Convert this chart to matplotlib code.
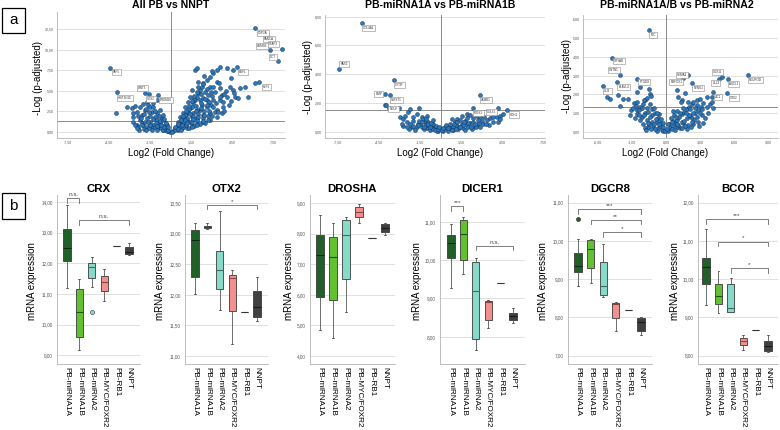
import matplotlib
matplotlib.use("Agg")
import matplotlib.pyplot as plt
from matplotlib.patches import Rectangle

plt.rcParams['font.family'] = ['Liberation Sans', 'DejaVu Sans']

# ---------------- DATA ----------------
# Volcano 1: All PB vs NNPT
v1_x = [-4.01, -3.24, -2.87, -2.63, -2.26, -2.02, -1.78, -1.65, -2.75, -2.51, -2.14, -1.9, -1.53, -1.29, -1.05,
        -1.41, -1.05, -0.8, -1.17, -1.78, -2.26, -2.75, -2.51, -2.02, -1.53, -1.05, -0.68, -0.56, -1.29, -0.8,
        -0.44, -0.32, -0.56, -0.19, -0.07, -0.92, -1.41, -1.78, -2.38, -2.14,
        0.17, 0.29, 0.41, 0.54, 0.66, 0.78, 0.9, 1.02, 1.14, 1.27, 1.39, 1.51, 1.63, 1.75, 1.87, 2.0, 2.12, 2.24,
        2.36, 2.6, 2.85, 3.09, 3.33, 3.58, 1.75, 1.87, 3.02, 4.06, 4.38, 4.55, 4.67, 4.87, 5.6, 4.31, 3.58, 3.33,
        2.85, 2.48, 2.12, 2.6, 3.09, 3.58, 4.06, 3.82, 3.33, 2.85, 2.36, 1.87, 1.39, 1.02, 0.78, 0.54, 2.12, 2.6,
        1.63, 1.14, 1.51, 1.87, 2.24, 2.73, 3.21, 3.7, 4.55, 5.04, 5.4, 1.14, 1.51, 1.87, 2.36, 2.85, 3.33, 3.7,
        2.0, 1.51, 1.39, 1.22, 1.02, 0.85, 0.66, 0.49, 2.41, 3.09,
        -2.3, -2.0, -1.8, -1.6, -1.4, -1.2, -1.0, -0.9, -0.7, -0.6, -0.5, -0.4, -0.3, -0.2, -1.1, -1.5, -0.8, -0.3,
        -1.9, -2.6, 0.1, 0.3, 0.5, 0.7, 0.9, 1.1, 1.3, 1.5, 1.7, 1.9, 2.1, 2.3, 2.5, 2.7, 0.6, 0.9, 1.2, 1.6, 2.0,
        2.4, 1.0, 1.3, 1.8, 2.2, 2.9, 3.2, 1.7, 2.3, 2.6, 3.5, 3.0, 4.0, 3.8, 6.13,
        -2.8, -2.4, -2.0, -1.6, -1.2, -0.9, -0.6, -0.4, -0.2, -1.3, -1.7, -2.1, -2.5, -1.0, -0.7, -1.5, -2.2, -0.5,
        -1.8, -1.3, 0.3, 0.5, 0.7, 0.9, 1.1, 1.3, 1.5, 1.7, 1.9, 2.2, 2.5, 2.8, 3.1, 3.4, 3.9, 4.2, 4.4, 1.0, 1.4,
        1.8, 2.2, 2.6, 3.0, 2.7, 2.3, 1.9, 1.5, 1.2, 0.8, 1.6, 2.0, 2.4, 2.8, 3.3, 3.6, 2.9, 2.3, 1.95, 3.9, 4.6]
v1_y = [2.35, 3.0, 2.87, 3.16, 3.0, 3.4, 3.68, 3.28, 2.27, 2.47, 2.06, 2.67, 3.0, 3.48, 3.89,
        2.47, 2.27, 2.67, 1.86, 1.66, 1.46, 1.26, 0.85, 0.85, 1.26, 1.46, 1.66, 2.06, 0.85, 1.05,
        0.85, 0.45, 0.24, 0.12, 0.04, 0.45, 0.45, 0.65, 0.65, 1.05,
        0.12, 0.45, 0.65, 0.85, 1.05, 1.38, 1.66, 1.86, 2.27, 2.47, 2.87, 3.08, 3.48, 3.89, 4.29, 4.7, 5.1, 5.51,
        5.91, 6.32, 6.72, 7.13, 7.53, 7.94, 7.53, 7.73, 7.41, 7.73, 6.52, 7.53, 4.29, 4.09, 4.21, 5.51, 5.3, 6.11,
        5.51, 4.9, 3.89, 3.89, 3.89, 3.89, 4.29, 3.08, 2.67, 2.27, 2.06, 1.66, 1.26, 0.85, 0.45, 0.24, 2.67, 3.08,
        2.27, 1.46, 1.86, 2.67, 3.28, 4.49, 4.9, 4.49, 5.1, 5.3, 5.51, 0.45, 0.85, 1.05, 1.26, 1.46, 1.86, 2.27,
        6.11, 5.1, 4.29, 3.68, 3.08, 2.35, 1.86, 1.26, 6.8, 5.51,
        0.3, 0.4, 0.2, 0.5, 0.3, 0.6, 0.3, 0.8, 0.5, 0.2, 0.6, 0.3, 0.15, 0.3, 1.1, 0.9, 1.3, 0.9,
        1.2, 0.9, 0.05, 0.2, 0.4, 0.3, 0.6, 0.8, 0.5, 1.2, 0.7, 1.4, 1.0, 1.7, 1.1, 1.9, 0.9, 1.2, 1.7, 2.0, 2.2,
        2.5, 2.1, 2.8, 3.1, 2.9, 3.3, 2.4, 4.0, 4.1, 5.2, 6.0, 4.4, 5.0, 3.6, 5.95,
        1.8, 2.0, 2.2, 2.4, 2.5, 2.0, 1.4, 1.1, 0.6, 1.6, 1.2, 0.8, 0.5, 0.7, 0.9, 1.9, 1.7, 1.6,
        2.8, 3.0, 0.6, 1.0, 1.5, 2.0, 2.5, 3.2, 3.7, 4.4, 4.9, 4.6, 4.0, 3.6, 3.0, 2.4, 2.6, 3.3, 3.8, 1.5, 2.2,
        2.6, 3.5, 3.3, 2.0, 1.5, 1.3, 0.9, 0.6, 1.1, 0.8, 1.6, 1.8, 2.1, 2.6, 3.5, 4.2, 4.8, 5.8, 5.4, 4.6, 4.7]
v1_lab_x = [-4.45, -3.94, -1.9, -1.6, -0.95, 4.82, 6.13, 7.0, 8.1, 7.23, 7.81, 6.42]
v1_lab_y = [7.77, 4.85, 4.73, 4.58, 4.5, 7.93, 12.62, 11.65, 10.07, 9.95, 8.62, 6.07]
v1_lab_t = ['TAF5', 'HIST1H1C', 'WNT5', 'SOX2', 'PRDM16', 'EDF1', 'TOP2A', 'FANCA', 'TFAP2', 'KDM5B', 'DCT', 'KLF5']

# Volcano 2: PB-miRNA1A vs PB-miRNA1B
v2_x = [-4.07, -3.76, -3.05, -2.98, -2.78, -2.61, -2.37, -2.24, -1.56, -1.76, -1.39, -1.27, -1.02, -2.0, -2.49,
        -2.73, -2.85, -2.24, -1.63, -1.15, -0.9, -0.66, -0.41, -0.17, -1.76, -2.12, -1.39, -1.02, -0.78, -0.54,
        -0.29, 0.2, 0.44, 0.68, 0.93, 1.17, 1.54, 1.9, 2.15, 2.39, 2.63, 3.0, 3.37, 3.61, 3.85, 4.1, 4.34, 4.59,
        1.17, 1.54, 1.9, 2.15, 2.39, 2.63, 2.88, 3.12, 3.56, 4.22, 4.34, 2.39, 2.02, 1.66, 1.29, 0.93, 0.56, 0.8,
        1.05, 1.41, -2.3, -2.0, -1.9, -1.5, -1.2, -1.1, -0.8, -0.6, -0.45, -0.2, 0.1, 0.3, 0.6, 0.8, 1.0, 1.3,
        1.6, 1.8, 2.0, 2.3, 2.6, 2.8, -1.6, -0.9, 1.2, 1.8,
        -1.2, -0.95, -1.7, -2.45, -0.7, -1.4, -0.35, 0.4, 0.7, 1.1, 1.4, 1.7, 2.2, 2.5, 2.9, 3.3, 3.8, 0.55, 0.2,
        -0.1, 1.95, 2.7, 3.2, -2.0, -1.1, -0.55]
v2_y = [1.82, 1.66, 1.66, 1.0, 0.89, 1.12, 1.35, 1.59, 1.66, 1.24, 1.0, 0.89, 1.12, 0.77, 0.65,
        0.42, 0.54, 0.54, 0.54, 0.65, 0.49, 0.35, 0.23, 0.07, 0.35, 0.35, 0.3, 0.26, 0.12, 0.16,
        0.02, 0.07, 0.16, 0.26, 0.35, 0.42, 0.54, 0.49, 0.58, 0.65, 0.49, 0.77, 0.82, 0.96, 1.0, 1.0, 1.12, 1.24,
        0.89, 1.12, 1.24, 1.19, 0.96, 1.12, 1.0, 0.54, 0.49, 0.65, 0.89, 0.35, 0.3, 0.23, 0.19, 0.12, 0.07, 0.89,
        0.65, 0.82, 0.2, 0.4, 0.15, 0.5, 0.2, 0.45, 0.3, 0.5, 0.1, 0.2, 0.1, 0.3, 0.35, 0.1, 0.5, 0.3,
        0.45, 0.15, 0.6, 0.2, 0.3, 0.6, 0.75, 0.7, 0.7, 0.75,
        0.35, 0.55, 0.45, 0.3, 0.6, 0.7, 0.4, 0.45, 0.55, 0.2, 0.35, 0.65, 0.35, 0.5, 0.35, 0.55, 0.7, 0.25, 0.25,
        0.35, 0.95, 0.8, 1.05, 1.0, 0.9, 0.8]
v2_lab_x = [-5.78, -7.41, -3.41, -4.05, -3.71, -3.98, 2.88, 2.34, 4.22, 4.83]
v2_lab_y = [7.58, 4.38, 3.57, 2.62, 2.52, 1.86, 2.52, 1.65, 1.65, 1.54]
v2_lab_t = ['COL4A1', 'PAX3', 'CYTIP', 'LIMP', 'TWIST1', 'NDUF', 'LAMB1', 'MEIS1', 'COL15', 'CDH1']

# Volcano 3: PB-miRNA1A/B vs PB-miRNA2
v3_x = [-5.24, -4.94, -4.26, -3.38, -3.09, -2.82, -2.53, -2.29, -2.15, -2.0, -1.85, -1.65, -1.47, -1.41, -2.29,
        -2.59, -3.76, -4.06, -3.18, -2.59, -2.15, -1.85, -1.56, -1.26, -0.97, -0.68, -0.82, -1.26, -1.71, -2.0,
        -1.56, -1.12, -0.68, -0.38, -0.24, -1.85, -2.29, -2.74, -1.41, -1.06, -0.53, -1.35, -0.82, -2.35, -2.65,
        0.21, 0.35, 0.59, 0.79, 0.94, 1.15, 1.38, 1.59, 1.82, 2.06, 2.26, 2.41, 2.71, 3.0, 3.29, 3.59, 3.88, 4.03,
        4.18, 1.82, 2.12, 2.56, 2.85, 3.15, 3.44, 3.74, 1.53, 1.97, 2.41, 2.85, 3.29, 0.94, 1.09, 1.38, 1.68, 2.71,
        2.26, 0.5, 1.24, 1.82, 0.94, 1.38, 2.56, 3.06, 3.59, 4.47, 4.03,
        -1.8, -1.5, -1.0, -0.9, -0.5, -0.3, -0.1, 0.1, 0.3, 0.6, 0.8, 1.1, 1.4, 1.6, 2.0, 2.2, 2.5, 0.7, 1.0,
        -0.6, -1.2, -1.9, -0.4, 0.4,
        -1.7, -1.4, -1.1, -0.8, -0.6, -1.6, -2.4, -2.9, -0.3, 0.2, 0.5, 0.9, 1.2, 1.5, 1.8, 2.1, 2.4, 2.7, 3.0,
        1.0, 1.7, 2.3, 2.9, 3.2, 0.6, 1.3, 1.9, -1.9, -2.6, -1.3]
v3_y = [1.88, 1.74, 1.97, 1.74, 1.17, 1.56, 1.17, 1.35, 1.26, 1.49, 1.71, 1.79, 2.27, 2.02, 2.38,
        2.15, 1.74, 1.39, 0.91, 0.96, 0.82, 0.99, 1.08, 0.91, 0.99, 0.73, 0.55, 0.55, 0.64, 0.43,
        0.28, 0.32, 0.2, 0.11, 0.05, 0.2, 0.64, 0.73, 0.78, 0.43, 0.32, 0.14, 0.07, 1.17, 1.39,
        0.07, 0.2, 0.32, 0.46, 0.64, 0.82, 0.96, 1.08, 1.21, 1.35, 1.49, 1.62, 1.71, 1.74, 1.53, 1.31, 1.49, 1.88,
        1.26, 0.73, 0.85, 0.99, 1.17, 0.91, 0.73, 1.03, 0.46, 0.37, 0.43, 0.55, 0.5, 2.24, 1.85, 1.71, 2.06, 1.44,
        0.73, 0.14, 0.2, 0.14, 0.28, 0.55, 1.26, 1.31, 1.85, 1.88, 1.62,
        0.1, 0.4, 0.15, 0.7, 0.5, 0.25, 0.05, 0.15, 0.4, 0.6, 0.1, 0.35, 0.2, 0.6, 0.9, 0.25, 0.65, 0.9, 1.1,
        0.95, 1.2, 0.9, 0.7, 0.75,
        1.3, 1.5, 1.3, 1.0, 0.4, 0.5, 0.9, 1.3, 0.5, 0.4, 0.55, 0.8, 1.0, 1.3, 1.0, 1.2, 1.0, 0.8, 1.0,
        0.45, 0.3, 0.55, 0.3, 1.2, 1.1, 1.6, 1.6, 1.7, 1.6, 1.9]
v3_lab_x = [-1.47, -4.79, -4.06, -4.29, -5.53, -2.53, 1.94, 1.53, 2.32, 4.97, 4.71, 5.44, 7.2, 4.12, 5.41]
v3_lab_y = [5.44, 3.93, 3.04, 2.68, 2.45, 2.82, 3.04, 2.86, 2.59, 2.95, 2.81, 2.84, 3.04, 2.11, 2.1]
v3_lab_t = ['MIC', 'CRYAB', 'CNTN1', 'ELAVL4', 'GLI2', 'PTGDS', 'SEMA3', 'RBFOX1', 'NTNG1', 'SOX11',
            'DLL3', 'ASCL1', 'NEUROD', 'ZIC1', 'OTX2']

# Box plots
groups = ['PB-miRNA1A', 'PB-miRNA1B', 'PB-miRNA2', 'PB-MYC/FOXR2', 'PB-RB1', 'NNPT']

crx_lo = [11.2, 9.18, 11.22, 10.78, 12.57, 12.27]
crx_q1 = [12.07, 9.6, 11.53, 11.1, 12.57, 12.3]
crx_med = [12.51, 10.42, 11.87, 11.38, 12.57, 12.38]
crx_q3 = [13.12, 11.17, 12.0, 11.6, 12.57, 12.55]
crx_hi = [13.9, 11.5, 12.22, 11.82, 12.57, 12.67]
crx_out = [[], [], [10.41], [], [], []]

otx2_lo = [12.01, 13.08, 11.76, 11.2, 11.72, 11.58]
otx2_q1 = [12.29, 13.09, 12.1, 11.74, 11.72, 11.64]
otx2_med = [12.89, 13.11, 12.41, 12.27, 11.72, 11.8]
otx2_q3 = [13.06, 13.13, 12.72, 12.33, 11.72, 12.06]
otx2_hi = [13.17, 13.17, 13.37, 12.4, 11.72, 12.29]

drosha_lo = [4.86, 4.6, 5.44, 8.33, 7.84, 7.96]
drosha_q1 = [5.92, 5.84, 6.53, 8.55, 7.84, 8.04]
drosha_med = [7.31, 7.23, 7.95, 8.72, 7.84, 8.17]
drosha_q3 = [7.96, 7.89, 8.45, 8.88, 7.84, 8.32]
drosha_hi = [8.6, 8.36, 8.53, 8.98, 7.84, 8.35]

dicer1_lo = [9.27, 9.65, 7.66, 8.23, 9.41, 8.37]
dicer1_q1 = [10.05, 10.0, 7.93, 8.43, 9.41, 8.43]
dicer1_med = [10.45, 10.68, 9.2, 8.9, 9.41, 8.53]
dicer1_q3 = [10.65, 11.06, 9.95, 8.93, 9.41, 8.62]
dicer1_hi = [10.95, 11.12, 10.06, 8.96, 9.41, 8.76]

dgcr8_lo = [8.82, 8.91, 8.53, 7.63, 8.18, 7.55]
dgcr8_q1 = [9.19, 9.28, 8.59, 7.98, 8.18, 7.65]
dgcr8_med = [9.35, 9.79, 8.82, 8.35, 8.18, 7.87]
dgcr8_q3 = [9.67, 10.02, 9.46, 8.37, 8.18, 7.98]
dgcr8_hi = [10.06, 10.06, 9.93, 8.39, 8.18, 8.0]
dgcr8_out = [[10.57], [], [], [], [], []]

bcor_lo = [9.31, 9.11, 9.13, 8.15, 8.67, 8.1]
bcor_q1 = [9.86, 9.34, 9.15, 8.28, 8.67, 8.11]
bcor_med = [10.32, 9.56, 9.24, 8.38, 8.67, 8.24]
bcor_q3 = [10.56, 9.86, 9.86, 8.47, 8.67, 8.37]
bcor_hi = [11.3, 10.21, 10.02, 8.54, 8.67, 8.54]

# significance brackets: (group i, group j, level, label)
crx_sig = [(0, 1, 14.13, 'n.s.'), (1, 5, 13.41, 'n.s.')]
otx2_sig = [(1, 5, 13.47, '*')]
drosha_sig = []
dicer1_sig = [(0, 1, 11.41, '***'), (2, 5, 10.37, 'n.s.')]
dgcr8_sig = [(0, 5, 10.83, '***'), (1, 5, 10.55, '**'), (2, 5, 10.23, '*')]
bcor_sig = [(0, 5, 11.57, '***'), (1, 5, 10.98, '*'), (2, 5, 10.29, '*')]

# ---------------- FIGURE ----------------
W, H = 780, 430
fig = plt.figure(figsize=(W / 100, H / 100), dpi=100)
fig.patch.set_facecolor('white')


def ax_px(x0, y0, x1, y1):
    return fig.add_axes([x0 / W, 1 - y1 / H, (x1 - x0) / W, (y1 - y0) / H])


def comma(v):
    return f"{v:.2f}".replace('.', ',')


GRID = '#dadada'
SPINE = '#b4b4b4'


def volcano(rect, xs, ys, lx, ly, lt, offs, xlim, ylim, xticks, yticks, thr,
            title, tpos, xlpos, ylpos):
    ax = ax_px(*rect)
    ax.set_xlim(xlim)
    ax.set_ylim(ylim)
    for yt in yticks:
        ax.axhline(yt, color=GRID, lw=0.6, zorder=0)
    ax.axhline(thr, color='#8a8a8a', lw=0.7, zorder=1)
    ax.axvline(0, color='#8a8a8a', lw=0.7, zorder=1)
    ax.scatter(list(xs) + list(lx), list(ys) + list(ly), s=8, c='#2d78bb',
               edgecolors='#12345a', linewidths=0.35, zorder=3)
    for x, y, t, (dx, dy, ha, va) in zip(lx, ly, lt, offs):
        ax.annotate(t, (x, y), xytext=(dx, dy), textcoords='offset pixels',
                    ha=ha, va=va, fontsize=2.2, color='#333333', zorder=4,
                    bbox=dict(boxstyle='square,pad=0.35', fc='white', ec='#8a8a8a', lw=0.4))
    ax.set_xticks(xticks)
    ax.set_xticklabels([comma(t) for t in xticks])
    ax.set_yticks(yticks)
    ax.set_yticklabels([comma(t) for t in yticks])
    ax.tick_params(length=0, labelsize=2.6, labelcolor='#555555', pad=2)
    for s in ['top', 'right']:
        ax.spines[s].set_visible(False)
    for s in ['left', 'bottom']:
        ax.spines[s].set_color(SPINE)
        ax.spines[s].set_linewidth(0.6)
    fig.text(tpos[0] / W, 1 - tpos[1] / H, title, ha='center', va='center',
             fontsize=7.6, fontweight='bold')
    fig.text(xlpos[0] / W, 1 - xlpos[1] / H, 'Log2 (Fold Change)', ha='center',
             va='center', fontsize=7)
    fig.text(ylpos[0] / W, 1 - ylpos[1] / H, '-Log (p-adjusted)', ha='center',
             va='center', fontsize=7, rotation=90)
    return ax


v1_offs = [(3, -2, 'left', 'top'), (1, -4, 'left', 'top'), (2, 3, 'right', 'bottom'),
           (-2, -3, 'left', 'top'), (2, -3, 'left', 'top'), (2, -3, 'left', 'top'),
           (3, -3, 'left', 'top'), (-3, -1, 'left', 'top'), (-4, 3, 'right', 'bottom'),
           (-3, 2, 'right', 'bottom'), (-2, 2, 'right', 'bottom'), (4, -3, 'left', 'top')]
volcano((57, 12, 285, 138), v1_x, v1_y, v1_lab_x, v1_lab_y, v1_lab_t, v1_offs,
        (-8.32, 8.32), (-0.73, 14.56), [-7.5, -4.5, -1.5, 1.5, 4.5, 7.5],
        [0, 2.5, 5, 7.5, 10, 12.5], 1.3, 'All PB vs NNPT', (171, 5), (171, 153), (38, 78))

v2_offs = [(1, -3, 'left', 'top'), (1, 3, 'left', 'bottom'), (1, -3, 'left', 'top'),
           (-3, 0, 'right', 'center'), (1, -3, 'left', 'top'), (3, -2, 'left', 'top'),
           (1, -3, 'left', 'top'), (1, -3, 'left', 'top'), (-2, -2, 'right', 'top'),
           (3, -3, 'left', 'top')]
volcano((325, 15, 545, 138), v2_x, v2_y, v2_lab_x, v2_lab_y, v2_lab_t, v2_offs,
        (-8.47, 7.63), (-0.44, 8.11), [-7.5, -4.5, -1.5, 1.5, 4.5, 7.5],
        [0, 2, 4, 6, 8], 1.52, 'PB-miRNA1A vs PB-miRNA1B', (440, 5), (440, 153), (308, 77))

v3_offs = [(1, -3, 'left', 'top'), (2, -1, 'left', 'top'), (-1, 3, 'right', 'bottom'),
           (1, -3, 'left', 'top'), (1, -3, 'left', 'top'), (2, -1, 'left', 'top'),
           (-1, 0, 'right', 'center'), (-1, -2, 'right', 'top'), (1, -3, 'left', 'top'),
           (0, 3, 'right', 'bottom'), (0, -2, 'right', 'top'), (1, -3, 'left', 'top'),
           (1, -3, 'left', 'top'), (2, -3, 'left', 'top'), (3, -3, 'left', 'top')]
volcano((583, 15, 778, 138), v3_x, v3_y, v3_lab_x, v3_lab_y, v3_lab_t, v3_offs,
        (-7.32, 9.88), (-0.32, 6.23), [-6, -3, 0, 3, 6, 9],
        [0, 1, 2, 3, 4, 5, 6], 1.33, 'PB-miRNA1A/B vs PB-miRNA2', (677, 5), (665, 153), (567, 76))

# ---- box plots ----
box_colors = ['#22602a', '#62c12f', '#86dbc8', '#f48f8f', '#4a4a4a', '#404040']
med_colors = ['#0d2a10', '#244f14', '#3a6e62', '#8a4545', '#333333', '#1a1a1a']


def boxpanel(rect, xlim, ylim, yticks, lo, q1, med, q3, hi, outs, sig, title, ylx):
    ax = ax_px(*rect)
    stats = []
    for i in range(len(groups)):
        stats.append(dict(whislo=lo[i], q1=q1[i], med=med[i], q3=q3[i], whishi=hi[i],
                          fliers=outs[i] if outs else [], label=groups[i]))
    b = ax.bxp(stats, positions=range(len(groups)), widths=0.58, patch_artist=True,
               showfliers=True, manage_ticks=False,
               boxprops=dict(lw=0.6, edgecolor='#3a3a3a'),
               whiskerprops=dict(lw=0.6, color='#555555'),
               capprops=dict(lw=0.6, color='#555555'),
               medianprops=dict(lw=0.8),
               flierprops=dict(marker='o', markersize=3, markeredgewidth=0.4))
    for i, p in enumerate(b['boxes']):
        p.set_facecolor(box_colors[i])
    for i, m in enumerate(b['medians']):
        m.set_color(med_colors[i])
    for c in b['caps']:
        c.set_xdata([c.get_xdata()[0] + 0.07, c.get_xdata()[1] - 0.07])
    for i, f in enumerate(b['fliers']):
        f.set_markerfacecolor(box_colors[i])
        f.set_markeredgecolor('#333333')
    ax.set_xlim(xlim)
    ax.set_ylim(ylim)
    for yt in yticks:
        ax.axhline(yt, color=GRID, lw=0.6, zorder=0)
    ax.set_yticks(yticks)
    ax.set_yticklabels([comma(t) for t in yticks])
    ax.set_xticks(range(len(groups)))
    ax.set_xticklabels(groups, rotation=-90, fontsize=5.9, ha='center', va='top')
    ax.tick_params(axis='y', length=0, labelsize=3.3, labelcolor='#555555', pad=3)
    ax.tick_params(axis='x', length=0, pad=2.5)
    for s in ['top', 'right']:
        ax.spines[s].set_visible(False)
    for s in ['left', 'bottom']:
        ax.spines[s].set_color(SPINE)
        ax.spines[s].set_linewidth(0.6)
    rng = ylim[1] - ylim[0]
    drop = rng / 169 * 4.5
    for i, j, lev, txt in sig:
        ax.plot([i, i, j, j], [lev - drop, lev, lev, lev - drop], color='#6a6a6a',
                lw=0.6, clip_on=False, zorder=5)
        ax.text((i + j) / 2, lev + drop * 0.25, txt, ha='center', va='bottom',
                fontsize=4.6, color='#444444', clip_on=False)
    cx = (rect[0] + rect[2]) / 2
    fig.text(cx / W, 1 - 189 / H, title, ha='center', va='center', fontsize=8.2,
             fontweight='bold')
    fig.text(ylx / W, 1 - 281 / H, 'mRNA expression', ha='center', va='center',
             fontsize=7, rotation=90)
    return ax


boxpanel((57, 195, 140, 364), (-0.81, 5.89), (8.72, 14.23), [9, 10, 11, 12, 13, 14],
         crx_lo, crx_q1, crx_med, crx_q3, crx_hi, crx_out, crx_sig, 'CRX', 32)
boxpanel((185, 195, 268, 364), (-0.81, 5.89), (10.87, 13.63), [11, 11.5, 12, 12.5, 13, 13.5],
         otx2_lo, otx2_q1, otx2_med, otx2_q3, otx2_hi, None, otx2_sig, 'OTX2', 160)
boxpanel((310, 195, 395, 364), (-0.77, 5.77), (3.74, 9.26), [4, 5, 6, 7, 8, 9],
         drosha_lo, drosha_q1, drosha_med, drosha_q3, drosha_hi, None, drosha_sig, 'DROSHA', 289)
boxpanel((440, 195, 525, 364), (-0.89, 5.97), (7.29, 11.7), [8, 9, 10, 11],
         dicer1_lo, dicer1_q1, dicer1_med, dicer1_q3, dicer1_hi, None, dicer1_sig, 'DICER1', 417)
boxpanel((568, 195, 652, 364), (-0.79, 5.87), (6.78, 11.2), [7, 8, 9, 10, 11],
         dgcr8_lo, dgcr8_q1, dgcr8_med, dgcr8_q3, dgcr8_hi, dgcr8_out, dgcr8_sig, 'DGCR8', 543)
boxpanel((698, 195, 778, 364), (-0.65, 5.8), (7.78, 12.2), [8, 9, 10, 11, 12],
         bcor_lo, bcor_q1, bcor_med, bcor_q3, bcor_hi, None, bcor_sig, 'BCOR', 675)

# panel letters
for letter, (x0, y0, x1, y1) in [('a', (2, 8, 25, 33)), ('b', (2, 193, 25, 219))]:
    fig.patches.append(Rectangle((x0 / W, 1 - y1 / H), (x1 - x0) / W, (y1 - y0) / H,
                                 transform=fig.transFigure, fill=False, ec='black', lw=0.9))
    fig.text((x0 + x1) / 2 / W, 1 - (y0 + y1) / 2 / H, letter, ha='center', va='center',
             fontsize=11)

fig.savefig('out.png', dpi=100, facecolor='white')
